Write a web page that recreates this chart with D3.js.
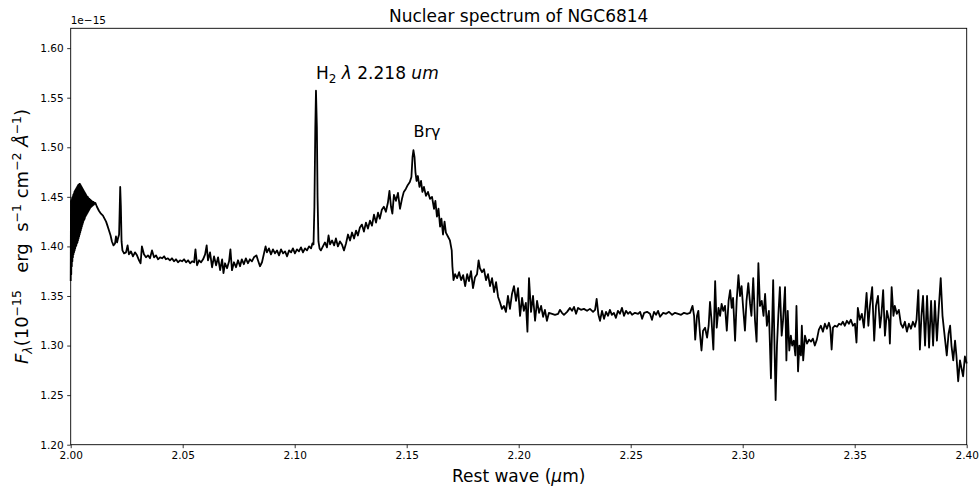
<!DOCTYPE html>
<html>
<head>
<meta charset="utf-8">
<script src="https://cdn.jsdelivr.net/npm/d3@7"></script>
<style>
  html, body { margin: 0; padding: 0; background: #fff; }
  svg { display: block; font-family: "DejaVu Sans", sans-serif; }
</style>
</head>
<body>
<svg id="chart" width="979" height="488"></svg>
<script>
// Rest-frame wavelength (micron) of each sampled pixel
const wave = [
  2.000000,2.000125,2.000250,2.000375,2.000500,2.000625,2.000750,2.000875,2.001000,2.001125,2.001250,2.001375,2.001500,2.001625,2.001750,2.001875,
  2.002000,2.002125,2.002250,2.002375,2.002500,2.002625,2.002750,2.002875,2.003000,2.003125,2.003250,2.003375,2.003500,2.003625,2.003750,2.003875,
  2.004000,2.004125,2.004250,2.004375,2.004500,2.004625,2.004750,2.004875,2.005000,2.005125,2.005250,2.005375,2.005500,2.005625,2.005750,2.005875,
  2.006000,2.006125,2.006250,2.006375,2.006500,2.006625,2.006750,2.006875,2.007000,2.007125,2.007250,2.007375,2.007500,2.007625,2.007750,2.007875,
  2.008000,2.008125,2.008250,2.008375,2.008500,2.008625,2.008750,2.008875,2.009000,2.009125,2.009250,2.009375,2.009500,2.009625,2.009750,2.009875,
  2.010000,2.010125,2.010250,2.010375,2.010500,2.010625,2.010750,2.010875,2.011000,
  2.0117,2.0126,2.0135,2.0144,2.0151,2.0158,2.0164,2.0171,2.0178,2.0184,2.0191,2.0198,2.0202,2.0207,2.0211,2.0216,2.0219,2.0221,2.0224,2.0227,2.0231,2.0238,
  2.0247,2.0254,2.0260,2.0269,2.0278,2.0287,2.0296,2.0305,2.0312,2.0318,2.0327,2.0336,2.0345,2.0354,2.0363,2.0372,2.0381,2.0390,2.0399,2.0408,
  2.0417,2.0425,2.0434,2.0443,2.0452,2.0461,2.0470,2.0479,2.0488,2.0497,2.0506,2.0515,2.0524,2.0533,2.0542,2.0551,2.0557,2.0564,2.0573,2.0582,
  2.0591,2.0600,2.0607,2.0613,2.0622,2.0631,2.0640,2.0649,2.0658,2.0667,2.0676,2.0682,2.0689,2.0698,2.0707,2.0713,2.0720,2.0729,2.0738,2.0747,
  2.0756,2.0764,2.0773,2.0782,2.0791,2.0800,2.0809,2.0818,2.0829,2.0836,2.0845,2.0854,2.0863,2.0870,2.0876,2.0885,2.0894,2.0903,2.0912,2.0921,
  2.0930,2.0939,2.0948,2.0957,2.0966,2.0975,2.0984,2.0992,2.1001,2.1010,2.1019,2.1028,2.1037,2.1046,2.1055,2.1064,2.1073,2.1079,
  2.1084,2.1088,2.1092,2.1095,2.1099,2.1102,2.1106,2.1111,2.1117,
  2.1126,2.1135,2.1144,2.1151,2.1158,2.1167,2.1176,2.1184,2.1193,2.1202,2.1211,2.1220,2.1229,2.1238,2.1247,2.1256,2.1265,2.1274,2.1282,2.1291,
  2.1300,2.1309,2.1318,2.1327,2.1336,2.1345,2.1354,2.1363,2.1372,2.1380,2.1389,2.1398,2.1407,2.1416,2.1423,2.1430,2.1436,2.1443,2.1452,2.1461,
  2.1470,2.1479,2.1487,2.1496,2.1505,2.1514,2.1521,2.1526,2.1530,2.1535,2.1539,2.1544,2.1550,2.1557,2.1564,2.1570,2.1577,2.1586,2.1595,2.1604,
  2.1613,2.1622,2.1628,2.1635,2.1642,2.1649,2.1655,2.1662,2.1669,2.1675,2.1684,2.1693,2.1701,2.1704,2.1709,
  2.1716,2.1725,2.1734,2.1743,2.1752,2.1761,2.1770,2.1778,2.1787,2.1796,2.1805,2.1814,2.1821,2.1827,2.1836,2.1845,2.1854,2.1863,2.1872,2.1881,
  2.1890,2.1899,2.1908,2.1916,2.1925,2.1934,2.1943,2.1952,2.1961,2.1970,2.1979,2.1988,2.1997,2.2006,2.2015,2.2023,2.2032,2.2039,2.2046,2.2055,
  2.2064,2.2073,2.2082,2.2091,2.2100,2.2109,2.2117,2.2126,
  2.2135,2.2149,2.2162,2.2176,2.2184,2.2193,2.2202,2.2216,2.2229,2.2238,2.2247,2.2256,2.2265,2.2278,2.2291,2.2305,2.2318,2.2332,2.2341,2.2348,
  2.2356,2.2363,2.2372,2.2381,2.2390,2.2399,2.2407,2.2416,2.2425,2.2434,2.2443,2.2452,2.2461,2.2470,2.2479,2.2488,2.2497,2.2506,2.2519,2.2533,
  2.2542,2.2551,2.2560,2.2573,2.2586,2.2595,2.2604,2.2613,2.2622,2.2631,2.2645,2.2658,2.2671,2.2685,2.2698,2.2712,2.2725,2.2738,2.2752,2.2765,2.2776,
  2.2783,2.2788,2.2796,2.2802,2.2810,2.2816,2.2823,2.2832,2.2841,2.2848,2.2854,2.2861,2.2869,2.2877,2.2884,2.2892,2.2899,2.2906,2.2913,2.2921,
  2.2929,2.2937,2.2944,2.2951,2.2957,2.2966,2.2973,2.2981,2.2988,2.2995,2.3002,2.3010,2.3017,2.3025,2.3033,2.3039,2.3047,2.3055,2.3062,2.3070,
  2.3077,2.3085,2.3093,2.3100,2.3108,2.3117,2.3126,2.3136,2.3147,2.3153,2.3159,2.3166,2.3174,2.3180,2.3189,2.3195,2.3201,2.3208,2.3215,2.3221,
  2.3228,2.3235,2.3240,2.3247,2.3253,2.3260,2.3264,2.3270,2.3278,
  2.3287,2.3296,2.3305,2.3313,2.3322,2.3331,2.3340,2.3349,2.3358,2.3367,2.3376,2.3385,2.3391,2.3397,2.3403,2.3412,2.3421,2.3430,2.3439,2.3447,
  2.3456,2.3465,2.3474,2.3483,2.3492,2.3501,2.3508,2.3514,2.3523,2.3532,2.3541,2.3553,2.3561,2.3568,2.3578,2.3587,2.3595,2.3604,2.3613,2.3619,
  2.3627,2.3635,2.3644,2.3653,2.3657,2.3665,2.3673,2.3679,2.3688,2.3697,2.3706,2.3715,2.3724,2.3733,2.3742,2.3751,2.3760,2.3769,2.3776,2.3784,
  2.3791,2.3798,2.3805,2.3814,2.3823,2.3832,2.3841,2.3850,2.3858,2.3867,2.3876,2.3884,2.3892,2.3899,2.3911,2.3919,2.3926,2.3932,2.3940,2.3948,
  2.3954,2.3962,2.3970,2.3976,2.3984,2.3992,2.4000
];

// Flux density in units of 1e-15 erg s^-1 cm^-2 A^-1
const flux = [
  1.365,1.446,1.372,1.447,1.380,1.449,1.385,1.450,1.389,1.452,1.392,1.453,1.394,1.455,1.396,1.456,
  1.398,1.457,1.400,1.458,1.401,1.459,1.403,1.460,1.404,1.461,1.406,1.462,1.408,1.462,1.410,1.463,
  1.412,1.463,1.414,1.462,1.416,1.461,1.418,1.460,1.420,1.459,1.422,1.458,1.424,1.457,1.426,1.456,
  1.427,1.455,1.428,1.454,1.430,1.453,1.431,1.452,1.432,1.451,1.433,1.450,1.434,1.450,1.435,1.449,
  1.436,1.448,1.437,1.448,1.438,1.447,1.439,1.447,1.440,1.446,1.440,1.446,1.441,1.445,1.441,1.445,
  1.442,1.445,1.442,1.444,1.443,1.444,1.443,1.444,1.444,
  1.440,1.436,1.433,1.431,1.428,1.425,1.421,1.416,1.411,1.405,1.401,1.403,1.410,1.404,1.408,1.412,1.440,1.460,1.440,1.405,1.396,1.393,
  1.394,1.401,1.392,1.395,1.390,1.394,1.391,1.386,1.383,1.400,1.392,1.389,1.391,1.388,1.396,1.389,1.391,1.387,1.389,1.388,
  1.390,1.387,1.388,1.386,1.388,1.385,1.387,1.384,1.386,1.385,1.387,1.384,1.386,1.383,1.385,1.384,1.397,1.381,1.386,1.384,
  1.387,1.392,1.401,1.386,1.394,1.379,1.390,1.381,1.389,1.376,1.387,1.373,1.383,1.378,1.385,1.397,1.376,1.384,1.379,1.386,
  1.380,1.387,1.382,1.388,1.383,1.387,1.385,1.389,1.391,1.386,1.380,1.384,1.393,1.400,1.394,1.398,1.392,1.397,1.393,1.396,
  1.391,1.397,1.393,1.395,1.390,1.396,1.394,1.398,1.393,1.397,1.395,1.399,1.394,1.398,1.396,1.400,1.398,1.403,
  1.402,1.440,1.520,1.557,1.520,1.450,1.405,1.398,1.396,
  1.400,1.404,1.399,1.411,1.402,1.406,1.401,1.408,1.400,1.405,1.402,1.396,1.403,1.412,1.406,1.414,1.408,1.416,1.411,1.419,
  1.422,1.415,1.424,1.418,1.426,1.421,1.432,1.424,1.434,1.428,1.437,1.440,1.435,1.444,1.456,1.440,1.433,1.452,1.446,1.454,
  1.438,1.448,1.455,1.458,1.462,1.465,1.470,1.490,1.497,1.490,1.475,1.466,1.471,1.460,1.466,1.455,1.460,1.451,1.455,1.448,
  1.450,1.438,1.446,1.430,1.438,1.420,1.428,1.412,1.425,1.414,1.410,1.406,1.396,1.380,1.366,
  1.372,1.368,1.374,1.366,1.371,1.360,1.372,1.365,1.375,1.358,1.369,1.372,1.386,1.378,1.374,1.377,1.366,1.372,1.360,1.368,
  1.354,1.364,1.349,1.344,1.337,1.340,1.334,1.350,1.337,1.352,1.360,1.345,1.358,1.330,1.348,1.335,1.343,1.314,1.368,1.334,
  1.350,1.325,1.345,1.333,1.340,1.329,1.336,1.325,
  1.333,1.332,1.331,1.332,1.336,1.333,1.331,1.334,1.338,1.335,1.339,1.332,1.338,1.336,1.337,1.335,1.337,1.334,1.336,1.347,
  1.331,1.325,1.335,1.327,1.334,1.330,1.336,1.331,1.333,1.328,1.335,1.332,1.338,1.330,1.335,1.332,1.334,1.331,1.333,1.332,
  1.334,1.327,1.333,1.334,1.332,1.326,1.334,1.331,1.335,1.329,1.333,1.332,1.334,1.331,1.333,1.332,1.331,1.333,1.332,1.333,1.340,
  1.330,1.306,1.330,1.335,1.310,1.295,1.315,1.318,1.308,1.320,1.344,1.325,1.296,1.365,1.318,1.338,1.330,1.342,1.335,1.340,
  1.315,1.345,1.356,1.338,1.348,1.305,1.345,1.371,1.350,1.360,1.338,1.315,1.345,1.363,1.342,1.330,1.368,1.325,1.304,1.383,
  1.340,1.345,1.330,1.352,1.320,1.335,1.267,1.366,1.245,1.300,1.330,1.359,1.310,1.325,1.359,1.285,1.335,1.295,1.310,1.300,
  1.305,1.290,1.340,1.274,1.300,1.290,1.320,1.285,1.310,
  1.302,1.306,1.304,1.307,1.300,1.306,1.316,1.320,1.314,1.322,1.317,1.323,1.318,1.296,1.318,1.320,1.319,1.322,1.321,1.324,
  1.320,1.325,1.322,1.326,1.320,1.322,1.303,1.338,1.326,1.332,1.318,1.353,1.320,1.340,1.359,1.305,1.340,1.350,1.318,1.330,
  1.356,1.310,1.335,1.325,1.302,1.359,1.330,1.340,1.332,1.336,1.322,1.318,1.324,1.314,1.322,1.317,1.324,1.319,1.326,1.356,
  1.296,1.330,1.350,1.300,1.350,1.298,1.345,1.300,1.345,1.305,1.340,1.368,1.330,1.315,1.290,1.312,1.320,1.300,1.285,1.305,
  1.290,1.264,1.285,1.278,1.269,1.289,1.282
];

// Axis ticks
const xTicks = [2.00, 2.05, 2.10, 2.15, 2.20, 2.25, 2.30, 2.35, 2.40];
const yTicks = [1.20, 1.25, 1.30, 1.35, 1.40, 1.45, 1.50, 1.55, 1.60];
const xDomain = [2.00, 2.40];
const yDomain = [1.20, 1.62];

// Emission-line label anchors (line peak wavelength, peak flux)
const h2Line = { wave: 2.1095, flux: 1.557 };
const brgLine = { wave: 2.1530, flux: 1.497 };

const svg = d3.select("#chart");
const W = 979, H = 488;
const m = { left: 70.7, right: W - 966.7, top: 28.3, bottom: H - 444.7 };
const iw = W - m.left - m.right, ih = H - m.top - m.bottom;

const x = d3.scaleLinear().domain(xDomain).range([m.left, m.left + iw]);
const y = d3.scaleLinear().domain(yDomain).range([m.top + ih, m.top]);

const pts = wave.map((w, i) => [w, flux[i]]);

// Spectrum line
svg.append("path")
  .datum(pts)
  .attr("fill", "none")
  .attr("stroke", "#000")
  .attr("stroke-width", 1.8)
  .attr("stroke-linejoin", "round")
  .attr("d", d3.line().x(d => x(d[0])).y(d => y(d[1])));

// Axes
const xAxis = d3.axisBottom(x).tickValues(xTicks).tickFormat(d3.format(".2f")).tickSizeOuter(0).tickSize(3.5).tickPadding(3.5);
const yAxis = d3.axisLeft(y).tickValues(yTicks).tickFormat(d3.format(".2f")).tickSizeOuter(0).tickSize(3.5).tickPadding(3.5);

const gx = svg.append("g").attr("transform", `translate(0,${m.top + ih})`).call(xAxis);
const gy = svg.append("g").attr("transform", `translate(${m.left},0)`).call(yAxis);
[gx, gy].forEach(g => {
  g.select(".domain").remove();
  g.selectAll("line").attr("stroke", "#000").attr("stroke-width", 0.8);
  g.selectAll("text").attr("font-family", "DejaVu Sans").attr("font-size", 10.5).attr("fill", "#000");
});

// Frame
svg.append("rect")
  .attr("x", m.left).attr("y", m.top).attr("width", iw).attr("height", ih)
  .attr("fill", "none").attr("stroke", "#000").attr("stroke-width", 0.9);

// Offset text
svg.append("text").attr("x", m.left).attr("y", 23.5)
  .attr("font-size", 10.5).text("1e\u221215");

// Title
svg.append("text").attr("x", m.left + iw / 2).attr("y", 21.5)
  .attr("text-anchor", "middle").attr("font-size", 17)
  .text("Nuclear spectrum of NGC6814");

// X label
const xl = svg.append("text").attr("x", m.left + iw / 2).attr("y", 482)
  .attr("text-anchor", "middle").attr("font-size", 17);
xl.append("tspan").text("Rest wave (");
xl.append("tspan").attr("font-style", "italic").text("\u03bc");
xl.append("tspan").text("m)");

// Y label
const yl = svg.append("text")
  .attr("transform", `translate(28,${m.top + ih / 2}) rotate(-90)`)
  .attr("text-anchor", "middle").attr("font-size", 18)
  .attr("xml:space", "preserve").style("white-space", "pre");
yl.append("tspan").attr("font-style", "italic").text("F");
yl.append("tspan").attr("font-style", "italic").attr("font-size", 12.5).attr("dy", 4).text("\u03bb");
yl.append("tspan").attr("dy", -4).text("(10");
yl.append("tspan").attr("font-size", 12.5).attr("dy", -7).text("\u221215");
yl.append("tspan").attr("dy", 7).text("   erg  s");
yl.append("tspan").attr("font-size", 12.5).attr("dy", -7).text("\u22121");
yl.append("tspan").attr("dy", 7).text(" cm");
yl.append("tspan").attr("font-size", 12.5).attr("dy", -7).text("\u22122");
yl.append("tspan").attr("dy", 7).text(" ");
yl.append("tspan").attr("font-style", "italic").text("\u00c5");
yl.append("tspan").attr("font-size", 12.5).attr("dy", -7).text("\u22121");
yl.append("tspan").attr("dy", 7).text(")");

// Line annotations
const h2 = svg.append("text").attr("x", x(h2Line.wave)).attr("y", y(h2Line.flux) - 12)
  .attr("font-size", 17);
h2.append("tspan").text("H");
h2.append("tspan").attr("font-size", 12).attr("dy", 4).text("2");
h2.append("tspan").attr("dy", -4).text(" ");
h2.append("tspan").attr("font-style", "italic").text("\u03bb");
h2.append("tspan").text(" 2.218 ");
h2.append("tspan").attr("font-style", "italic").text("um");

svg.append("text").attr("x", x(brgLine.wave)).attr("y", y(brgLine.flux) - 13)
  .attr("font-size", 16).text("Br\u03b3");
</script>
</body>
</html>
